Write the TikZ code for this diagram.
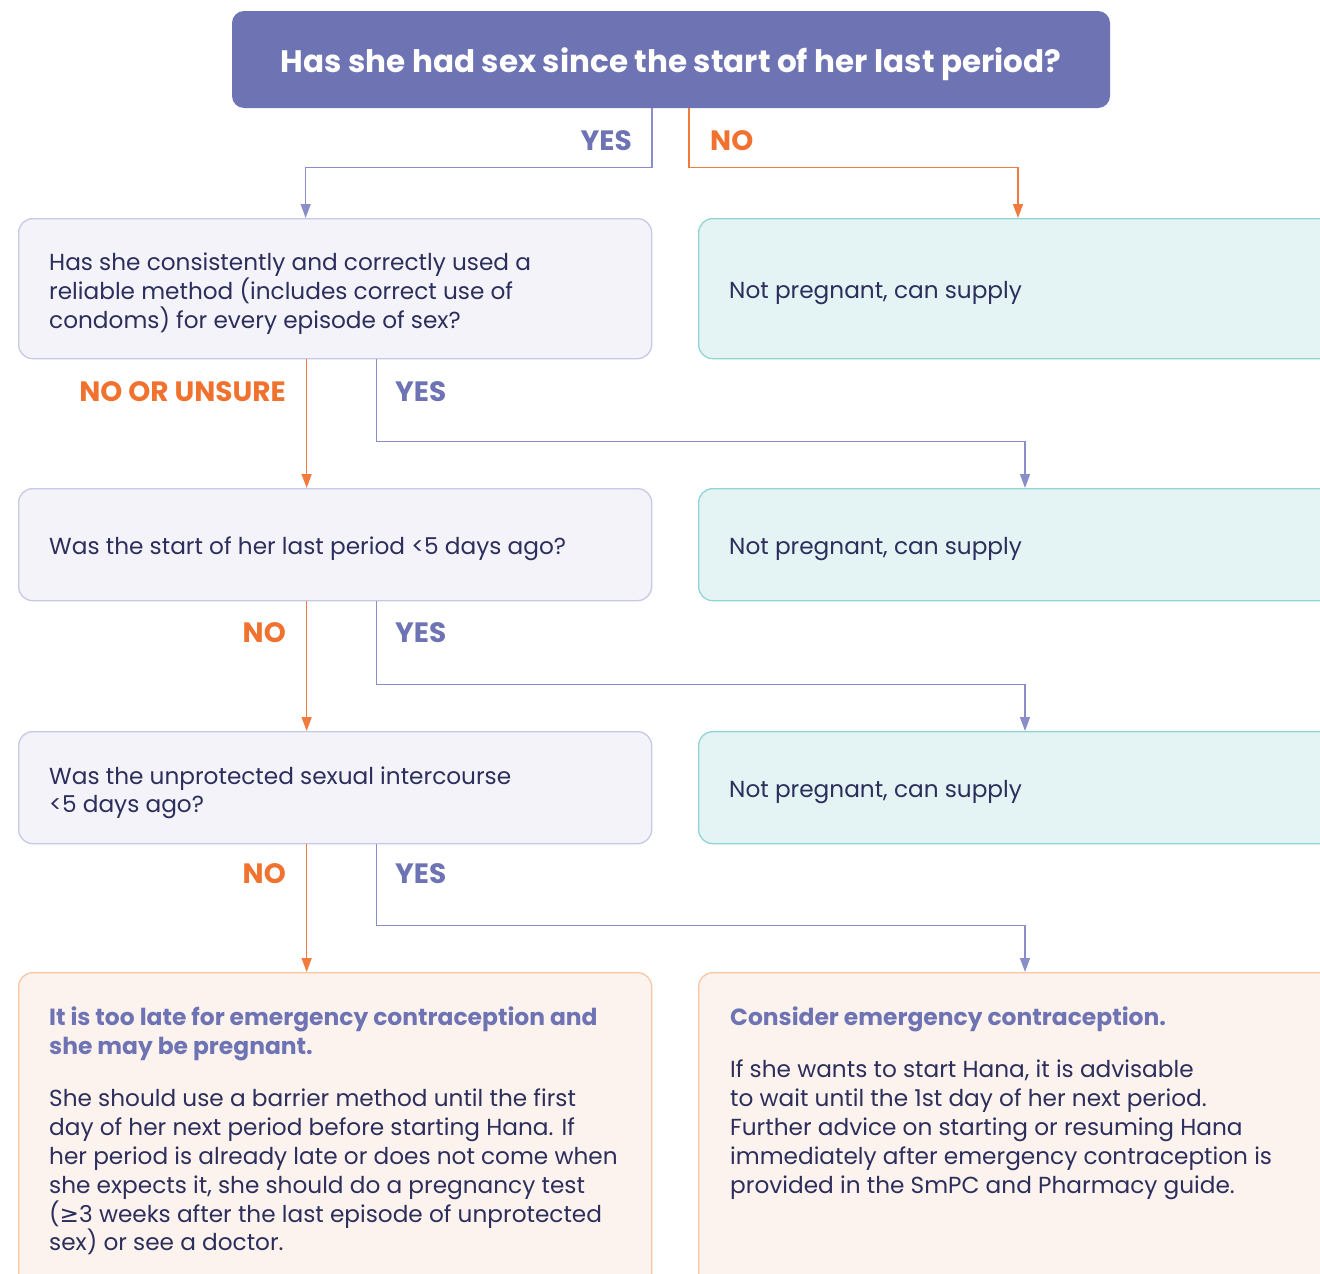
\documentclass[tikz,border=0pt]{standalone}
\usepackage{fontspec}
\setmainfont{Poppins}
\newfontfamily\symfont{DejaVu Sans}
\usetikzlibrary{arrows.meta}
\definecolor{topfill}{HTML}{6E73B4}
\definecolor{yesline}{HTML}{8A8EC8}
\definecolor{yestext}{HTML}{6E73B4}
\definecolor{noline}{HTML}{F07B3D}
\definecolor{notext}{HTML}{F0722E}
\definecolor{qfill}{HTML}{F3F3F9}
\definecolor{qdraw}{HTML}{C6C8E6}
\definecolor{rfill}{HTML}{E4F4F4}
\definecolor{rdraw}{HTML}{90D4D4}
\definecolor{bfill}{HTML}{FDF3EE}
\definecolor{bdraw}{HTML}{F9C6A4}
\definecolor{bodytext}{HTML}{2C2E5C}
\begin{document}
\begin{tikzpicture}[x=1pt,y=-1pt,
  topbox/.style={fill=topfill, rounded corners=12pt, minimum width=878pt, minimum height=97pt, inner sep=0pt},
  toptxt/.style={text=white, font=\bfseries\fontsize{31}{36}\selectfont, inner sep=0pt},
  qbox/.style={fill=qfill, draw=qdraw, line width=1.3pt, rounded corners=14pt, anchor=north west,
    minimum width=633pt, inner sep=0pt},
  rbox/.style={fill=rfill, draw=rdraw, line width=1.3pt, rounded corners=14pt, anchor=north west,
    minimum width=640pt, inner sep=0pt},
  boxtxt/.style={anchor=west, inner sep=0pt, align=left,
    text=bodytext, font=\fontsize{23.2}{28.7}\selectfont},
  bbox/.style={fill=bfill, draw=bdraw, line width=1.3pt, rounded corners=14pt, anchor=north west,
    minimum height=330pt, inner sep=0pt},
  headtxt/.style={anchor=north west, inner sep=0pt, align=left, text=yestext,
    font=\bfseries\fontsize{23.4}{29}\selectfont},
  bodytxt/.style={anchor=north west, inner sep=0pt, align=left, text=bodytext,
    font=\fontsize{23.2}{28.8}\selectfont},
  yeslab/.style={text=yestext, font=\bfseries\fontsize{28}{30}\selectfont, inner sep=0pt},
  nolab/.style={text=notext, font=\bfseries\fontsize{28}{30}\selectfont, inner sep=0pt},
  yesc/.style={draw=yesline, line width=1.4pt, -{Triangle[width=10pt,length=14pt]}},
  noc/.style={draw=noline, line width=1.4pt, -{Triangle[width=10pt,length=14pt]}}
]
\useasboundingbox (0,0) rectangle (1320,1274);
\clip (0,0) rectangle (1320,1274);

% top question
\node[topbox] (top) at (671,59.5) {};
\node[toptxt] (toptext) at ([yshift=-5pt]top.center) {Has she had sex since the start of her last period?};

% question boxes
\node[qbox, minimum height=140pt] (q1) at (18,218) {};
\node[qbox, minimum height=112pt] (q2) at (18,488) {};
\node[qbox, minimum height=112pt] (q3) at (18,731) {};
\node[boxtxt] (q1t) at ([xshift=31pt,yshift=-5pt]q1.west)
  {Has she consistently and correctly used a\\reliable method (includes correct use of\\condoms) for every episode of sex?};
\node[boxtxt] (q2t) at ([xshift=31pt,yshift=-4pt]q2.west)
  {Was the start of her last period <5 days ago?};
\node[boxtxt] (q3t) at ([xshift=31pt,yshift=-5pt]q3.west)
  {Was the unprotected sexual intercourse\\<5 days ago?};

% result boxes
\node[rbox, minimum height=140pt] (r1) at (698,218) {};
\node[rbox, minimum height=112pt] (r2) at (698,488) {};
\node[rbox, minimum height=112pt] (r3) at (698,731) {};
\node[boxtxt] (r1t) at ([xshift=31pt,yshift=-4pt]r1.west) {Not pregnant, can supply};
\node[boxtxt] (r2t) at ([xshift=31pt,yshift=-4pt]r2.west) {Not pregnant, can supply};
\node[boxtxt] (r3t) at ([xshift=31pt,yshift=-4pt]r3.west) {Not pregnant, can supply};

% bottom boxes
\node[bbox, minimum width=633pt] (b1) at (18,972) {};
\node[bbox, minimum width=640pt] (b2) at (698,972) {};

\node[headtxt] (b1h) at (49,1007) {It is too late for emergency contraception and\\she may be pregnant.};
\node[bodytxt] (b1b) at (49,1089) {She should use a barrier method until the first\\day of her next period before starting Hana. If\\her period is already late or does not come when\\she expects it, she should do a pregnancy test\\({\symfont ≥}3 weeks after the last episode of unprotected\\sex) or see a doctor.};

\node[headtxt] (b2h) at (730,1007) {Consider emergency contraception.};
\node[bodytxt] (b2b) at (730,1060) {If she wants to start Hana, it is advisable\\to wait until the 1st day of her next period.\\Further advice on starting or resuming Hana\\immediately after emergency contraception is\\provided in the SmPC and Pharmacy guide.};

% connectors
\draw[yesc] ([xshift=-19pt]top.south) -- ++(0,59) -| ([xshift=-29.5pt]q1.north);
\draw[noc] ([xshift=18pt]top.south) -- ++(0,59) -| ([xshift=320pt]r1.north west);

\draw[noc] ([xshift=-28.5pt]q1.south) -- ([xshift=-28.5pt]q2.north);
\draw[yesc] ([xshift=41.5pt]q1.south) -- ++(0,82) -| ([xshift=327pt]r2.north west);

\draw[noc] ([xshift=-28.5pt]q2.south) -- ([xshift=-28.5pt]q3.north);
\draw[yesc] ([xshift=41.5pt]q2.south) -- ++(0,83) -| ([xshift=327pt]r3.north west);

\draw[noc] ([xshift=-28.5pt]q3.south) -- ([xshift=-28.5pt]b1.north);
\draw[yesc] ([xshift=41.5pt]q3.south) -- ++(0,81) -| ([xshift=327pt]b2.north west);

% labels
\node[yeslab, anchor=base east] (l1) at (632,150) {YES};
\node[nolab, anchor=base west] (l2) at (710,150) {NO};
\node[nolab, anchor=base east] (l3) at (286,401) {NO OR UNSURE};
\node[yeslab, anchor=base west] (l4) at (395,401) {YES};
\node[nolab, anchor=base east] (l5) at (286,642) {NO};
\node[yeslab, anchor=base west] (l6) at (395,642) {YES};
\node[nolab, anchor=base east] (l7) at (286,883) {NO};
\node[yeslab, anchor=base west] (l8) at (395,883) {YES};
\end{tikzpicture}
\end{document}
